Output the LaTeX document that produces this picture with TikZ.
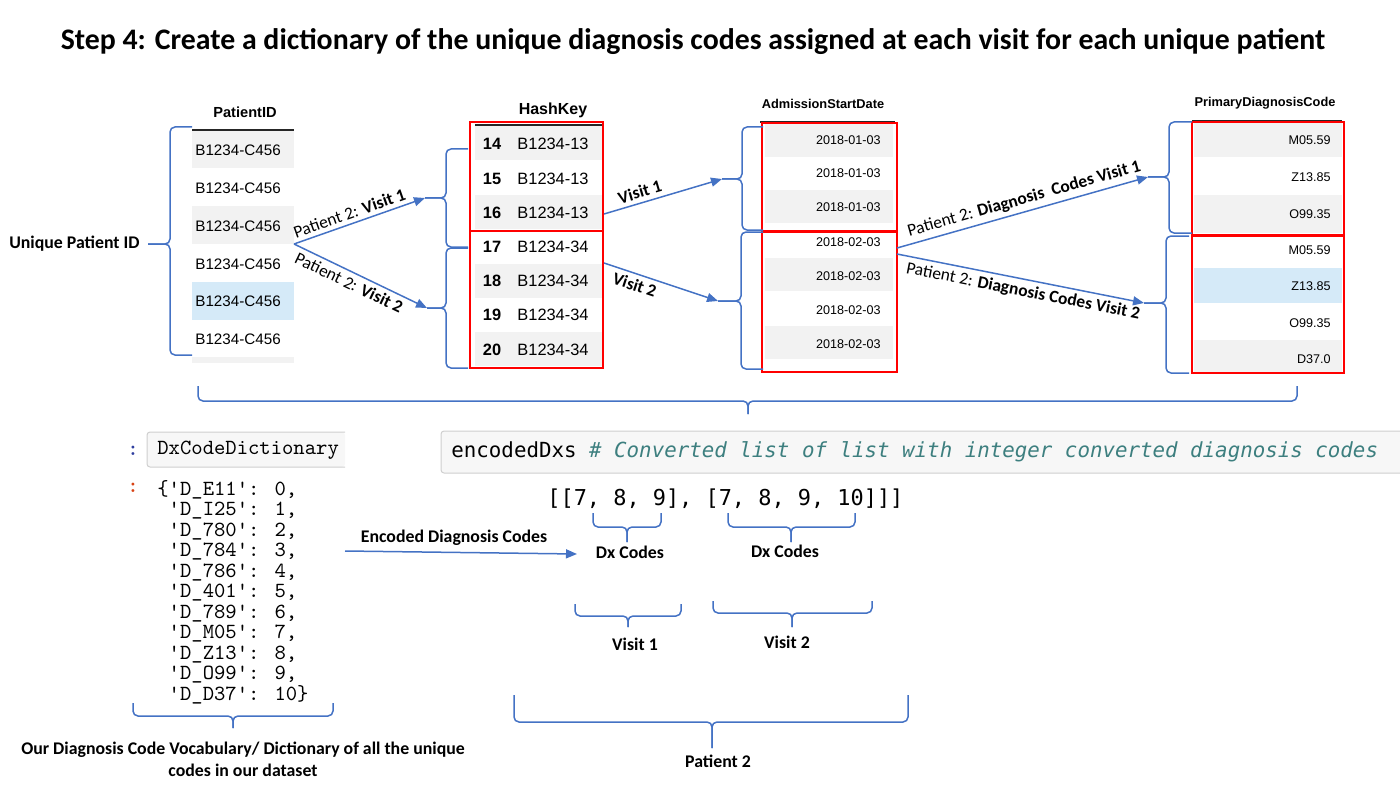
\documentclass[tikz,border=0pt]{standalone}
\usepackage{fontspec}
\setmainfont{Carlito}
\newfontfamily\arial{Liberation Sans}
\newfontfamily\dvm{DejaVu Sans Mono}
\usetikzlibrary{arrows.meta,calc}
\definecolor{cblue}{HTML}{4472C4}
\definecolor{rowgray}{HTML}{F2F2F2}
\definecolor{rowblue}{HTML}{D5EAF8}
\definecolor{codebg}{HTML}{F7F7F7}
\definecolor{codebd}{HTML}{CFCFCF}
\definecolor{teal}{HTML}{3D7F7F}
\definecolor{pblue}{HTML}{303F9F}
\definecolor{pred}{HTML}{D84315}
\newcommand\myq{\textquotesingle}
% horizontal brace pointing down: x1, x2, y, body depth, tip depth, tip x
\newcommand\mybrH[6]{%
  \draw[brcs] (#1,#3) -- (#1,#3+#4) -- (#6,#3+#4) -- (#6,#3+#5);
  \draw[brcs] (#2,#3) -- (#2,#3+#4) -- (#6,#3+#4) -- (#6,#3+#5);}
% vertical brace pointing left: x, y1, y2, body depth, tip depth, tip y
\newcommand\mybrV[6]{%
  \draw[brcs] (#1,#2) -- (#1-#4,#2) -- (#1-#4,#6) -- (#1-#5,#6);
  \draw[brcs] (#1,#3) -- (#1-#4,#3) -- (#1-#4,#6) -- (#1-#5,#6);}
\begin{document}
\begin{tikzpicture}[x=0.5pt,y=-0.5pt,
  conn/.style={draw=cblue, line width=0.75pt, -{Triangle[length=5.5pt,width=4.5pt]}},
  brcs/.style={draw=cblue, line width=0.75pt, rounded corners=2.5pt},
  redbox/.style={draw=red, line width=0.8pt},
  lbl/.style={font=\fontsize{8.9}{10}\selectfont\bfseries, inner sep=1pt},
  alab/.style={font=\fontsize{8.7}{10}\selectfont, inner sep=2pt, sloped},
  pidt/.style={font=\arial\fontsize{7.6}{9}\selectfont, anchor=west, inner sep=0},
  hkn/.style={font=\arial\bfseries\fontsize{8.2}{9}\selectfont, inner sep=0},
  hkv/.style={font=\arial\fontsize{8.2}{9}\selectfont, inner sep=0},
  smt/.style={font=\arial\fontsize{6.3}{8}\selectfont, anchor=east, inner sep=0},
  hdr/.style={font=\arial\bfseries\fontsize{7.3}{9}\selectfont, inner sep=0},
  shdr/.style={font=\arial\bfseries\fontsize{6.4}{8}\selectfont, inner sep=0},
  mono/.style={font=\ttfamily\fontsize{10.8}{10.25}\selectfont, inner sep=0}
]
\useasboundingbox (0,0) rectangle (1400,786);

% Title
\node[font=\fontsize{14.9}{17}\selectfont\bfseries] (title) at (693,42)
  {Step 4: Create a dictionary of the unique diagnosis codes assigned at each visit for each unique patient};

% ---------- PatientID table ----------
\node[hdr] (pidh) at (245,112) {PatientID};
\fill[rowgray] (192,131) rectangle (294,168);
\fill[rowgray] (192,206) rectangle (294,244);
\fill[rowblue] (192,282) rectangle (294,320);
\fill[rowgray] (192,357) rectangle (294,363);
\draw[line width=1.1pt, black!85] (192,130) -- (294,130);
\foreach \y [count=\i] in {150,188,226,264,301,339}
  \node[pidt] (pid\i) at (195,\y) {B1234-C456};

\mybrV{192}{127}{355}{22}{44}{244}
\coordinate (pidtip) at (148,244);
\node[lbl, anchor=east] (uniq) at (142,244) {Unique Patient ID};

% ---------- HashKey table ----------
\node[hdr, font=\arial\bfseries\fontsize{8}{9}\selectfont] (hkh) at (553,110) {HashKey};
\foreach \y in {126,195,264,332}
  \fill[rowgray] (475,\y) rectangle (602,\y+34);
\draw[line width=1.1pt, black!85] (475,125) -- (602,125);
\draw[redbox] (470,122) rectangle (603,231);
\draw[redbox] (470,231) rectangle (603,368);
\foreach \y/\n/\v in {144/14/13,179/15/13,213/16/13,247/17/34,281/18/34,315/19/34,350/20/34}{
  \node[hkn] (hkn\n) at (492,\y) {\n};
  \node[hkv] (hkv\n) at (553,\y) {B1234-\v};
}
\mybrV{468}{149}{247}{22}{43}{198}
\coordinate (hk1tip) at (425,198);
\mybrV{468}{248}{368}{22}{41}{308}
\coordinate (hk2tip) at (427,308);

% ---------- AdmissionStartDate ----------
\node[shdr] (adh) at (823,104) {AdmissionStartDate};
\foreach \y in {124,190,258,326}
  \fill[rowgray] (765,\y) rectangle (893,\y+33);
\draw[line width=1.1pt, black!85] (760,122) -- (895,122);
\draw[redbox] (762,123) rectangle (897,231);
\draw[redbox] (762,232) rectangle (897,372);
\foreach \y/\d [count=\i] in {140/01,173/01,207/01,242/02,276/02,310/02,344/02}
  \node[smt] (ad\i) at (881,\y) {2018-\d-03};
\mybrV{763}{127}{230}{21}{41}{179}
\coordinate (ad1tip) at (722,179);
\mybrV{763}{232}{369}{22}{45}{301}
\coordinate (ad2tip) at (718,301);

% ---------- PrimaryDiagnosisCode ----------
\node[shdr] (pdh) at (1265,103) {PrimaryDiagnosisCode};
\fill[rowgray] (1194,123) rectangle (1342,157);
\fill[rowgray] (1194,195) rectangle (1342,233);
\fill[rowblue] (1194,268) rectangle (1342,303);
\fill[rowgray] (1194,340) rectangle (1342,373);
\draw[line width=1.1pt, black!85] (1192,121) -- (1342,121);
\draw[redbox] (1192,122) rectangle (1344,235);
\draw[redbox] (1192,236) rectangle (1344,373);
\foreach \y/\c [count=\i] in {140/M05.59,177/Z13.85,214/O99.35,250/M05.59,286/Z13.85,323/O99.35,359/D37.0}
  \node[smt] (pd\i) at (1331,\y) {\c};
\mybrV{1192}{122}{233}{23}{44}{177}
\coordinate (pd1tip) at (1148,177);
\mybrV{1189}{236}{373}{23}{45}{303}
\coordinate (pd2tip) at (1144,303);

% ---------- arrows ----------
\coordinate (pidout) at (294,244);
\coordinate (hk1out) at (604,214);
\coordinate (hk2out) at (604,263);
\coordinate (ad1out) at (897,248);
\coordinate (ad2out) at (897,254);
\draw[conn] (pidout) -- node[alab, above, pos=0.45] {Patient 2: \textbf{Visit 1}} (hk1tip);
\draw[conn] (pidout) -- node[alab, below, pos=0.45] {Patient 2: \textbf{Visit 2}} (hk2tip);
\draw[conn] (hk1out) -- node[alab, above, pos=0.33] {\textbf{Visit 1}} (ad1tip);
\draw[conn] (hk2out) -- node[alab, below, pos=0.3] {\textbf{Visit 2}} (ad2tip);
\draw[conn] (ad1out) -- node[alab, above, pos=0.52] {Patient 2: \textbf{Diagnosis\ \ Codes Visit 1}} (pd1tip);
\draw[conn] (ad2out) -- node[alab, below, pos=0.52] {Patient 2: \textbf{Diagnosis Codes Visit 2}} (pd2tip);

% big brace below
\mybrH{198}{1297}{386}{15}{28}{748}

% ---------- dictionary ----------
\node[mono, font=\ttfamily\bfseries\fontsize{10.8}{10}\selectfont, text=pblue] (c1) at (133,451) {:};
\fill[codebg, rounded corners=1.5pt] (147,432) rectangle (345,467);
\draw[codebd, line width=0.5pt, rounded corners=1.5pt] (345,432) -- (147,432) -- (147,467) -- (345,467);
\node[mono, anchor=west] (dxname) at (157,450) {DxCodeDictionary};
\node[mono, font=\ttfamily\bfseries\fontsize{10.8}{10}\selectfont, text=pred] (c2) at (133,488) {:};
\node[mono, anchor=north west, align=left] (dict) at (157,480) {%
\{\myq D\_E11\myq: 0,\\
\ \myq D\_I25\myq: 1,\\
\ \myq D\_780\myq: 2,\\
\ \myq D\_784\myq: 3,\\
\ \myq D\_786\myq: 4,\\
\ \myq D\_401\myq: 5,\\
\ \myq D\_789\myq: 6,\\
\ \myq D\_M05\myq: 7,\\
\ \myq D\_Z13\myq: 8,\\
\ \myq D\_O99\myq: 9,\\
\ \myq D\_D37\myq: 10\}};
\mybrH{133}{333}{703}{13}{25}{233}
\node[lbl, align=center, font=\fontsize{8.9}{11}\selectfont\bfseries] (vocab) at (243,759)
  {Our Diagnosis Code Vocabulary/ Dictionary of all the unique\\codes in our dataset};

% encoded arrow
\coordinate (encS) at (345,551);
\coordinate (encE) at (577,554);
\draw[conn] (encS) -- node[lbl, above, pos=0.47, yshift=2pt] {Encoded Diagnosis Codes} (encE);

% ---------- encodedDxs ----------
\fill[codebg, rounded corners=1.5pt] (441,431) rectangle (1404,473);
\draw[codebd, line width=0.5pt, rounded corners=1.5pt] (1404,431) -- (441,431) -- (441,473) -- (1404,473);
\node[anchor=west, inner sep=0, font=\dvm\fontsize{10.4}{12}\selectfont] (enc) at (451,452)
  {encodedDxs \textcolor{teal}{\itshape \# Converted list of list with integer converted diagnosis codes}};
\node[anchor=west, inner sep=0, font=\dvm\fontsize{10.95}{12}\selectfont] (lst) at (547,499)
  {[[7, 8, 9], [7, 8, 9, 10]]]};

\mybrH{593}{661}{513}{14}{29}{627}
\node[lbl] (dx1) at (630,552) {Dx Codes};
\mybrH{728}{855}{513}{14}{29}{791}
\node[lbl] (dx2) at (785,551) {Dx Codes};
\mybrH{575}{681}{604}{12}{23}{628}
\node[lbl] (v1) at (635,644) {Visit 1};
\mybrH{713}{872}{601}{12}{26}{792}
\node[lbl] (v2) at (787,642) {Visit 2};
\mybrH{514}{908}{695}{27}{53}{712}
\node[lbl] (p2) at (718,761) {Patient 2};
\end{tikzpicture}
\end{document}
